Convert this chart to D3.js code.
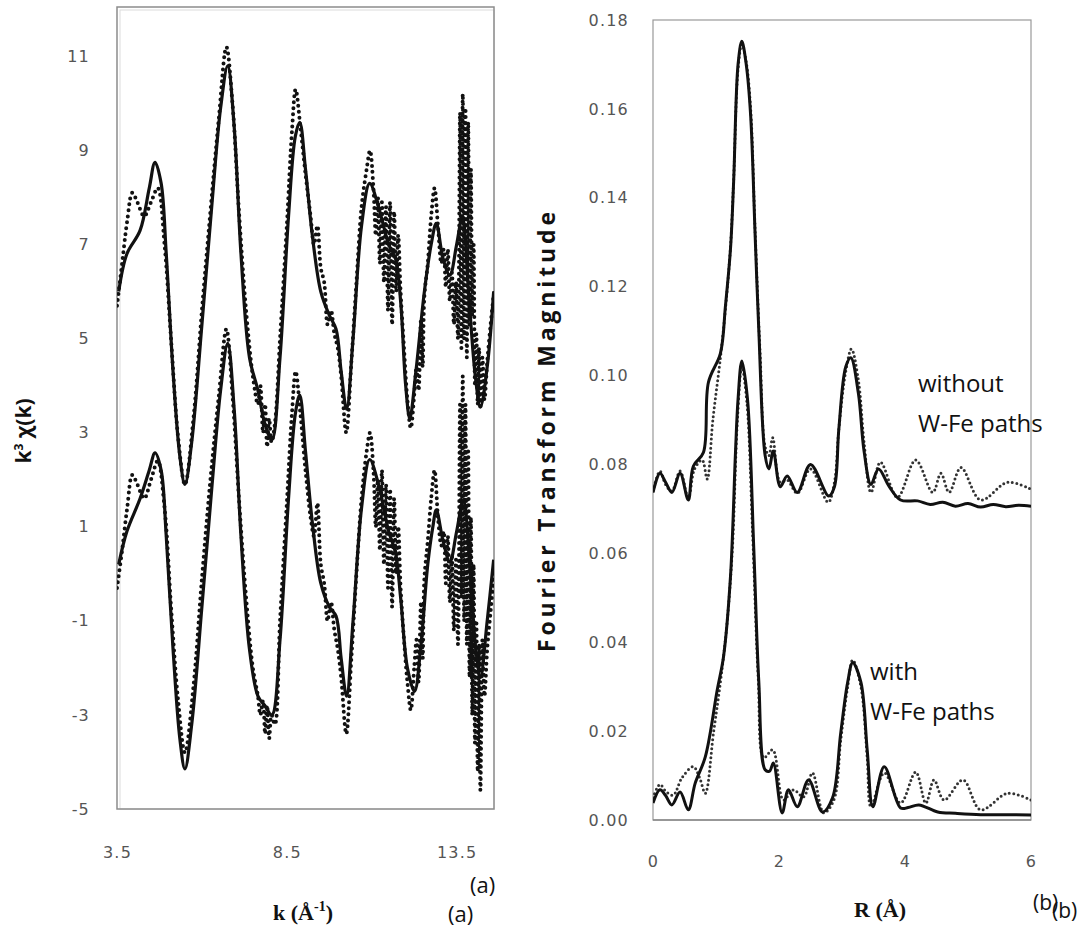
<!DOCTYPE html>
<html><head><meta charset="utf-8">
<script src="https://cdn.jsdelivr.net/npm/d3@7"></script>
<style>body{margin:0;background:#fff}svg{display:block}</style>
</head><body>
<svg id="c" width="1088" height="930"></svg>
<script>
// ---------- Panel (a): k^3 chi(k) ----------
const kTicks = [3.5, 8.5, 13.5];
const chiTicks = [-5, -3, -1, 1, 3, 5, 7, 9, 11];
// upper pair (without W-Fe paths): fit (solid) and data (dotted)
const kFitTop = [3.55,3.79,4.18,4.45,4.62,4.80,4.95,5.15,5.35,5.50,5.70,6.00,6.30,6.55,6.76,6.95,7.15,7.40,7.65,7.85,8.06,8.30,8.55,8.75,8.88,9.05,9.25,9.50,9.75,9.95,10.10,10.26,10.45,10.70,10.94,11.20,11.50,11.70,11.85,12.00,12.12,12.30,12.55,12.75,12.90,13.10,13.30,13.50,13.67,13.85,14.05,14.20,14.40,14.59];
const chiFitTop = [6.0,6.8,7.3,8.2,8.75,8.3,6.8,4.3,2.5,1.9,2.8,5.3,7.9,9.9,10.8,9.5,6.8,4.6,3.9,3.2,2.85,4.6,7.6,9.3,9.6,8.6,7.2,6.0,5.5,5.2,4.3,3.5,5.0,7.4,8.3,7.8,7.0,6.7,5.8,4.0,3.3,4.3,6.0,7.0,7.45,6.7,6.35,7.0,7.6,6.0,4.2,3.55,4.4,6.0];
const kDatTop = [3.50,3.65,3.80,3.95,4.10,4.30,4.50,4.70,4.90,5.10,5.30,5.50,5.75,6.00,6.25,6.50,6.72,6.90,7.10,7.30,7.50,7.65,7.72,7.80,7.86,7.92,7.98,8.05,8.15,8.30,8.50,8.65,8.76,8.90,9.05,9.20,9.30,9.40,9.50,9.60,9.70,9.80,9.90,10.00,10.10,10.25,10.40,10.55,10.70,10.85,10.95,11.05,11.12,11.18,11.24,11.30,11.36,11.42,11.48,11.54,11.60,11.66,11.72,11.78,11.85,11.95,12.05,12.15,12.25,12.32,12.38,12.45,12.50,12.55,12.65,12.75,12.85,12.95,13.05,13.12,13.18,13.24,13.30,13.36,13.42,13.48,13.54,13.60,13.64,13.68,13.72,13.76,13.80,13.84,13.88,13.92,13.96,14.00,14.04,14.08,14.12,14.16,14.20,14.26,14.32,14.40,14.50,14.60];
const chiDatTop = [5.7,6.6,7.5,8.1,7.9,7.6,7.9,8.2,7.0,4.9,2.9,1.9,3.3,5.6,7.7,9.7,11.2,10.0,7.6,5.6,4.2,3.6,4.0,3.0,3.6,2.7,3.3,2.8,3.2,5.0,7.4,9.4,10.3,9.5,8.5,7.6,7.0,7.4,6.5,6.2,5.3,5.6,5.1,4.8,4.2,3.0,4.5,6.2,7.8,8.6,9.0,8.2,7.2,8.0,6.6,7.9,6.2,7.8,5.6,7.9,5.3,7.7,6.0,7.2,6.0,4.8,3.7,3.1,3.8,4.4,3.9,5.4,4.4,5.9,6.6,7.6,8.2,7.4,6.6,6.9,6.1,6.9,5.8,6.4,5.3,6.2,5.0,9.8,4.8,10.2,5.0,9.9,4.6,9.6,5.3,8.6,5.5,7.0,4.0,5.1,3.6,4.8,3.5,4.6,3.7,4.5,5.3,6.0];
// lower pair (with W-Fe paths)
const kFitBot = [3.55,3.79,4.18,4.45,4.62,4.80,4.95,5.15,5.35,5.50,5.70,6.00,6.30,6.55,6.76,6.95,7.15,7.40,7.65,7.85,8.06,8.30,8.55,8.75,8.88,9.05,9.25,9.50,9.75,9.95,10.10,10.26,10.45,10.70,10.94,11.20,11.50,11.70,11.85,12.05,12.26,12.45,12.65,12.80,12.90,13.10,13.30,13.50,13.70,13.90,14.05,14.20,14.40,14.59];
const chiFitBot = [0.2,0.9,1.6,2.2,2.57,2.2,0.8,-1.6,-3.5,-4.15,-3.2,-0.7,1.9,3.9,4.9,3.5,0.8,-1.6,-2.6,-2.8,-3.0,-1.4,1.6,3.4,3.8,2.6,1.1,-0.2,-0.7,-0.9,-1.8,-2.6,-1.0,1.4,2.43,1.9,0.9,0.45,-0.5,-2.0,-2.5,-1.5,0.2,1.0,1.36,0.7,0.25,0.9,1.57,0.0,-1.5,-2.2,-1.0,0.3];
const kDatBot = kDatTop;
const chiDatBot = [-0.3,0.5,1.4,2.1,1.9,1.6,2.0,2.4,1.4,-0.8,-2.7,-3.8,-2.4,-0.1,2.0,3.8,5.2,3.8,1.5,-0.5,-2.0,-2.6,-3.0,-2.7,-3.4,-2.8,-3.5,-3.0,-3.2,-1.0,1.5,3.4,4.3,3.4,2.2,1.2,0.8,1.5,0.2,-0.2,-1.0,-0.6,-1.2,-1.6,-2.2,-3.4,-1.8,0.0,1.6,2.6,3.0,2.2,1.0,2.0,0.5,2.2,0.2,1.9,-0.3,1.8,-0.7,1.6,0.0,1.0,-0.3,-1.4,-2.3,-2.9,-2.0,-1.4,-2.3,-0.6,-1.8,-0.1,0.7,1.6,2.2,1.2,0.6,0.9,-0.2,0.8,-0.6,0.4,-1.2,0.3,-1.5,3.6,-0.5,4.2,-1.0,3.6,-1.5,2.6,-2.2,1.2,-3.0,0.2,-3.6,-1.0,-4.2,-1.5,-4.6,-1.4,-2.6,-1.6,-0.8,0.0];

// ---------- Panel (b): Fourier transform magnitude ----------
const rTicks = [0, 2, 4, 6];
const ftTicks = [0, 0.02, 0.04, 0.06, 0.08, 0.10, 0.12, 0.14, 0.16, 0.18];
const rFitTop = [0.00,0.11,0.20,0.30,0.43,0.56,0.64,0.80,0.88,1.07,1.15,1.23,1.28,1.35,1.41,1.48,1.55,1.62,1.68,1.78,1.84,1.91,2.02,2.13,2.29,2.50,2.79,2.88,2.95,3.06,3.14,3.26,3.35,3.46,3.58,3.75,3.93,4.20,4.40,4.60,4.80,5.00,5.20,5.40,5.60,5.80,6.00];
const ftFitTop = [0.0737,0.0780,0.0760,0.0737,0.0780,0.0720,0.0796,0.0827,0.0985,0.1050,0.1157,0.1285,0.1436,0.1700,0.1752,0.1700,0.1585,0.1320,0.1100,0.0820,0.0790,0.0830,0.0750,0.0774,0.0737,0.0800,0.0729,0.0750,0.0880,0.1020,0.1040,0.0960,0.0830,0.0755,0.0790,0.0750,0.0720,0.0718,0.0710,0.0715,0.0706,0.0712,0.0704,0.0710,0.0705,0.0708,0.0706];
const rDatTop = [0.00,0.11,0.20,0.30,0.43,0.56,0.66,0.78,0.86,0.95,1.07,1.15,1.23,1.28,1.35,1.41,1.48,1.55,1.62,1.70,1.78,1.84,1.90,2.02,2.13,2.29,2.50,2.78,2.88,2.95,3.06,3.15,3.26,3.35,3.46,3.61,3.88,4.17,4.44,4.57,4.70,4.89,5.20,5.63,6.00];
const ftDatTop = [0.0740,0.0785,0.0755,0.0740,0.0785,0.0725,0.0790,0.0810,0.0767,0.0900,0.1040,0.1150,0.1290,0.1440,0.1690,0.1745,0.1705,0.1600,0.1330,0.1050,0.0840,0.0820,0.0860,0.0760,0.0765,0.0735,0.0790,0.0715,0.0760,0.0880,0.1010,0.1060,0.0990,0.0850,0.0737,0.0805,0.0726,0.0810,0.0737,0.0780,0.0737,0.0793,0.0720,0.0760,0.0744];
const rFitBot = [0.00,0.11,0.20,0.30,0.43,0.56,0.67,0.83,1.02,1.12,1.23,1.31,1.35,1.41,1.50,1.60,1.68,1.78,1.85,1.91,2.05,2.15,2.29,2.47,2.69,2.85,2.98,3.09,3.17,3.30,3.40,3.49,3.67,3.93,4.05,4.22,4.52,4.80,5.20,5.60,6.00];
const ftFitBot = [0.0038,0.0068,0.0055,0.0034,0.0063,0.0023,0.0083,0.0142,0.0293,0.0368,0.0548,0.0830,0.0947,0.1033,0.0947,0.0610,0.0310,0.0113,0.0110,0.0128,0.0016,0.0068,0.0030,0.0090,0.0018,0.0050,0.0196,0.0310,0.0354,0.0310,0.0158,0.0030,0.0120,0.0027,0.0028,0.0034,0.0018,0.0015,0.0012,0.0012,0.0011];
const rDatBot = [0.00,0.11,0.20,0.32,0.46,0.64,0.74,0.83,0.96,1.07,1.17,1.26,1.34,1.41,1.49,1.58,1.67,1.76,1.90,2.07,2.23,2.39,2.53,2.71,2.87,2.98,3.09,3.17,3.30,3.40,3.46,3.67,3.93,4.17,4.33,4.46,4.62,4.92,5.20,5.63,6.00];
const ftDatBot = [0.0050,0.0080,0.0065,0.0056,0.0095,0.0120,0.0095,0.0060,0.0196,0.0310,0.0435,0.0610,0.0900,0.1020,0.0940,0.0650,0.0320,0.0140,0.0158,0.0045,0.0068,0.0052,0.0106,0.0016,0.0045,0.0180,0.0300,0.0360,0.0300,0.0140,0.0030,0.0106,0.0038,0.0108,0.0038,0.0090,0.0045,0.0090,0.0023,0.0060,0.0045];

const svg = d3.select("#c");
const tickFont = "DejaVu Sans, Verdana, sans-serif";

function frame(x0, y0, x1, y1) {
  svg.append("rect").attr("x", x0 + 3).attr("y", y0 + 3).attr("width", x1 - x0 - 3).attr("height", y1 - y0 - 3)
    .attr("fill", "none").attr("stroke", "#dcdcdc").attr("stroke-width", 1);
  svg.append("rect").attr("x", x0).attr("y", y0).attr("width", x1 - x0).attr("height", y1 - y0)
    .attr("fill", "none").attr("stroke", "#8c8c8c").attr("stroke-width", 1.5);
}
function styleAxis(g) {
  g.select(".domain").remove();
  g.selectAll("line").remove();
  g.selectAll("text").attr("font-family", tickFont).attr("font-size", 16)
    .attr("letter-spacing", 1.2).attr("fill", "#555");
}
function zip(a, b) { return a.map((d, i) => [d, b[i]]); }

// ---- Panel a
const xL = d3.scaleLinear().domain([3.5, 14.6]).range([117, 494]);
const yL = d3.scaleLinear().domain([-5, 12.05]).range([809, 7]);
svg.append("clipPath").attr("id", "clipL").append("rect").attr("x", 117).attr("y", 7).attr("width", 377).attr("height", 802);
frame(117, 7, 494, 809);
svg.append("g").attr("transform", "translate(117,0)")
  .call(d3.axisLeft(yL).tickValues(chiTicks).tickSize(0).tickPadding(27).tickFormat(d => String(d)))
  .call(styleAxis);
svg.append("g").attr("transform", "translate(0,809)")
  .call(d3.axisBottom(xL).tickValues(kTicks).tickSize(0).tickPadding(38).tickFormat(d3.format(".1f")))
  .call(styleAxis);

const lineL = d3.line().x(d => xL(d[0])).y(d => yL(d[1])).curve(d3.curveCatmullRom.alpha(0.5));
const gL = svg.append("g").attr("clip-path", "url(#clipL)");
[[kDatTop, chiDatTop], [kDatBot, chiDatBot]].forEach(([k, v]) => {
  gL.append("path").attr("d", lineL(zip(k, v))).attr("fill", "none").attr("stroke", "#111")
    .attr("stroke-width", 4).attr("stroke-linecap", "round").attr("stroke-dasharray", "0 6");
});
[[kFitTop, chiFitTop], [kFitBot, chiFitBot]].forEach(([k, v]) => {
  gL.append("path").attr("d", lineL(zip(k, v))).attr("fill", "none").attr("stroke", "#111")
    .attr("stroke-width", 3.2).attr("stroke-linejoin", "round");
});

// y label a
const yla = svg.append("text").attr("transform", "translate(31,431) rotate(-90)")
  .attr("text-anchor", "middle").attr("font-family", "Open Sans, sans-serif").attr("font-weight", "bold")
  .attr("font-size", 21).attr("fill", "#111");
yla.append("tspan").text("k");
yla.append("tspan").attr("dy", -8).attr("font-size", 12).text("3");
yla.append("tspan").attr("dy", 8).text("\u00a0χ(k)");

// x label a
const xla = svg.append("text").attr("x", 303).attr("y", 920).attr("text-anchor", "middle")
  .attr("font-family", "Liberation Serif, Times New Roman, serif").attr("font-weight", "bold")
  .attr("font-size", 22).attr("fill", "#111");
xla.append("tspan").text("k (Å");
xla.append("tspan").attr("dy", -9).attr("font-size", 14).text("-1");
xla.append("tspan").attr("dy", 9).text(")");
svg.append("text").attr("x", 448).attr("y", 922).attr("font-family", "Open Sans, sans-serif").attr("font-size", 22).attr("fill", "#111").text("(a)");
svg.append("text").attr("x", 470).attr("y", 893).attr("font-family", "Open Sans, sans-serif").attr("font-size", 22).attr("fill", "#111").text("(a)");

// ---- Panel b
const xR = d3.scaleLinear().domain([0, 6]).range([653, 1031]);
const yR = d3.scaleLinear().domain([0, 0.18]).range([820, 20]);
svg.append("clipPath").attr("id", "clipR").append("rect").attr("x", 653).attr("y", 20).attr("width", 378).attr("height", 800);
svg.append("rect").attr("x", 653).attr("y", 20).attr("width", 378).attr("height", 800)
  .attr("fill", "none").attr("stroke", "#999").attr("stroke-width", 1.2);
svg.append("line").attr("x1", 653).attr("x2", 1031).attr("y1", 820).attr("y2", 820).attr("stroke", "#888").attr("stroke-width", 1.5);
svg.append("g").attr("transform", "translate(653,0)")
  .call(d3.axisLeft(yR).tickValues(ftTicks).tickSize(0).tickPadding(24).tickFormat(d3.format(".2f")))
  .call(styleAxis);
svg.append("g").attr("transform", "translate(0,820)")
  .call(d3.axisBottom(xR).tickValues(rTicks).tickSize(0).tickPadding(36).tickFormat(d3.format("d")))
  .call(styleAxis);

const lineR = d3.line().x(d => xR(d[0])).y(d => yR(d[1])).curve(d3.curveCatmullRom.alpha(0.5));
const gR = svg.append("g").attr("clip-path", "url(#clipR)");
[[rDatTop, ftDatTop], [rDatBot, ftDatBot]].forEach(([r, v]) => {
  gR.append("path").attr("d", lineR(zip(r, v))).attr("fill", "none").attr("stroke", "#333")
    .attr("stroke-width", 3).attr("stroke-linecap", "round").attr("stroke-dasharray", "0 4.5");
});
[[rFitTop, ftFitTop], [rFitBot, ftFitBot]].forEach(([r, v]) => {
  gR.append("path").attr("d", lineR(zip(r, v))).attr("fill", "none").attr("stroke", "#111")
    .attr("stroke-width", 3).attr("stroke-linejoin", "round");
});

svg.append("text").attr("transform", "translate(555,432) rotate(-90)")
  .attr("text-anchor", "middle").attr("font-family", "Open Sans, sans-serif").attr("font-weight", "bold")
  .attr("font-size", 23).attr("fill", "#111").attr("textLength", 440).attr("lengthAdjust", "spacing")
  .text("Fourier Transform Magnitude");

svg.append("text").attr("x", 880).attr("y", 917).attr("text-anchor", "middle")
  .attr("font-family", "Liberation Serif, Times New Roman, serif").attr("font-weight", "bold")
  .attr("font-size", 22).attr("fill", "#111").text("R (Å)");
svg.append("text").attr("x", 1033).attr("y", 910).attr("font-family", "Open Sans, sans-serif").attr("font-size", 21).attr("fill", "#111").text("(b)");
svg.append("text").attr("x", 1052).attr("y", 918).attr("font-family", "Open Sans, sans-serif").attr("font-size", 21).attr("fill", "#111").text("(b)");

const annFont = "Open Sans, sans-serif";
[["without", 918, 392], ["W-Fe paths", 918, 432], ["with", 870, 680], ["W-Fe paths", 870, 720]].forEach(([t, x, y]) => {
  svg.append("text").attr("x", x).attr("y", y).attr("font-family", annFont).attr("font-size", 24)
    .attr("fill", "#111").text(t);
});
</script>
</body></html>
